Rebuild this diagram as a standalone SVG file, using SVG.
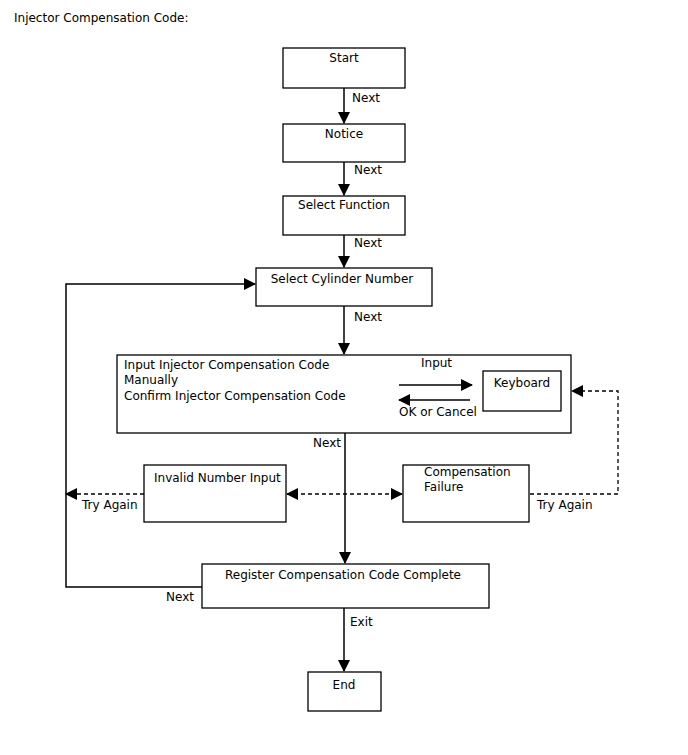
<svg xmlns="http://www.w3.org/2000/svg" width="688" height="755" viewBox="0 0 688 755">
<style>
text{font-family:"DejaVu Sans",sans-serif;font-size:12px;fill:#000}
.box{fill:#fff;stroke:#000;stroke-width:1.3}
.ln{fill:none;stroke:#000;stroke-width:1.5}
.ds{fill:none;stroke:#000;stroke-width:1.3;stroke-dasharray:4,3}
</style>
<defs>
<marker id="ah" markerWidth="12" markerHeight="12" refX="11" refY="6" orient="auto" markerUnits="userSpaceOnUse">
<path d="M0,0 L12,6 L0,12 Z" fill="#000"/>
</marker>
<marker id="as" markerWidth="12" markerHeight="12" refX="1" refY="6" orient="auto" markerUnits="userSpaceOnUse">
<path d="M12,0 L0,6 L12,12 Z" fill="#000"/>
</marker>
</defs>
<rect width="688" height="755" fill="#fff"/>
<text x="14" y="22">Injector Compensation Code:</text>
<g id="connectors">
<line class="ln" x1="344" y1="88" x2="344" y2="123" marker-end="url(#ah)"/>
<line class="ln" x1="344" y1="162" x2="344" y2="195" marker-end="url(#ah)"/>
<line class="ln" x1="344" y1="235" x2="344" y2="267" marker-end="url(#ah)"/>
<line class="ln" x1="344" y1="306" x2="344" y2="354" marker-end="url(#ah)"/>
<line class="ln" x1="345" y1="433" x2="345" y2="563" marker-end="url(#ah)"/>
<line class="ln" x1="344" y1="608" x2="344" y2="671" marker-end="url(#ah)"/>
<polyline class="ln" points="202,587 66,587 66,284 255,284" marker-end="url(#ah)"/>
<line class="ds" x1="144" y1="494" x2="66" y2="494" marker-end="url(#ah)"/>
<line class="ds" x1="287" y1="494" x2="402" y2="494" marker-start="url(#as)" marker-end="url(#ah)"/>
<polyline class="ds" points="530,494 618,494 618,391 572,391" marker-end="url(#ah)"/>
<text x="352" y="102">Next</text>
<text x="354" y="174">Next</text>
<text x="354" y="247">Next</text>
<text x="354" y="321">Next</text>
<text x="313" y="447">Next</text>
<text x="166" y="601">Next</text>
<text x="350" y="626">Exit</text>
<text x="82" y="509">Try Again</text>
<text x="537" y="509">Try Again</text>
</g>
<g id="start"><rect class="box" x="283" y="48" width="122" height="40"/><text x="344" y="62" text-anchor="middle">Start</text></g>
<g id="notice"><rect class="box" x="283" y="124" width="122" height="38"/><text x="344" y="138" text-anchor="middle">Notice</text></g>
<g id="select-function"><rect class="box" x="283" y="196" width="122" height="39"/><text x="344" y="209" text-anchor="middle">Select Function</text></g>
<g id="select-cylinder"><rect class="box" x="256" y="268" width="176" height="38"/><text x="342" y="283" text-anchor="middle">Select Cylinder Number</text></g>
<g id="input-code"><rect class="box" x="117" y="355" width="454" height="78"/>
<text x="124" y="369">Input Injector Compensation Code</text>
<text x="124" y="384">Manually</text>
<text x="124" y="400">Confirm Injector Compensation Code</text></g>
<g id="keyboard"><rect class="box" x="483" y="371" width="78" height="40"/><text x="522" y="387" text-anchor="middle">Keyboard</text></g>
<g id="inner-connectors">
<line class="ln" x1="399" y1="385" x2="472" y2="385" marker-end="url(#ah)"/>
<line class="ln" x1="470" y1="400" x2="399" y2="400" marker-end="url(#ah)"/>
<text x="421" y="367">Input</text>
<text x="399" y="416">OK or Cancel</text>
</g>
<g id="invalid"><rect class="box" x="144" y="465" width="142" height="57"/><text x="154" y="482">Invalid Number Input</text></g>
<g id="failure"><rect class="box" x="403" y="465" width="126" height="57"/><text x="424" y="476">Compensation</text><text x="424" y="491">Failure</text></g>
<g id="register"><rect class="box" x="202" y="564" width="287" height="44"/><text x="343" y="579" text-anchor="middle">Register Compensation Code Complete</text></g>
<g id="end"><rect class="box" x="308" y="672" width="73" height="39"/><text x="344" y="689" text-anchor="middle">End</text></g>
</svg>
